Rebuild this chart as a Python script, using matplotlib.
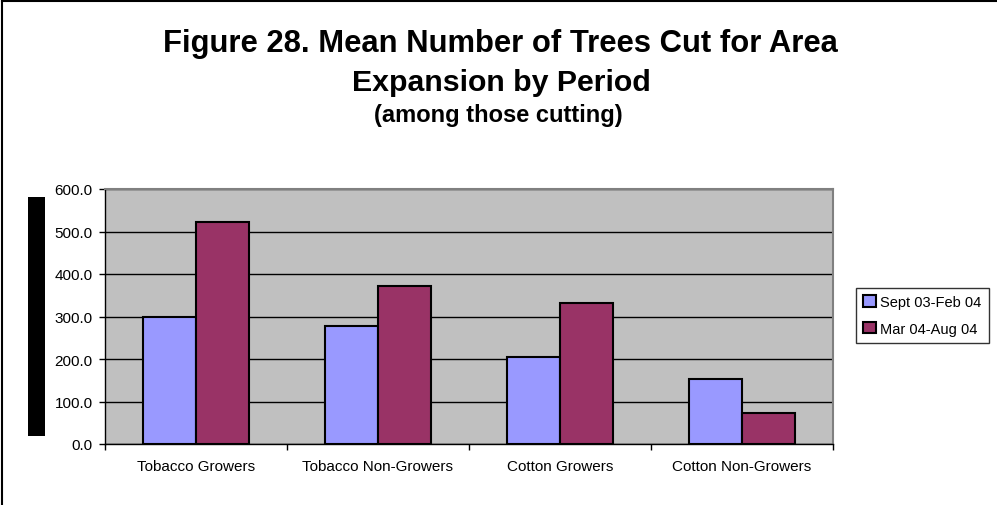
import matplotlib
matplotlib.use("Agg")
import matplotlib.pyplot as plt
import numpy as np
from matplotlib.patches import Rectangle
from matplotlib.lines import Line2D

categories = ["Tobacco Growers", "Tobacco Non-Growers", "Cotton Growers", "Cotton Non-Growers"]
series_names = ["Sept 03-Feb 04", "Mar 04-Aug 04"]
sept03_feb04 = [298, 278, 205, 152]
mar04_aug04 = [522, 371, 332, 74]
yticks = [0, 100, 200, 300, 400, 500, 600]

plt.rcParams['font.family'] = ['Liberation Sans', 'DejaVu Sans']

W, H = 997, 506
fig = plt.figure(figsize=(W / 100, H / 100), dpi=100)
fig.patch.set_facecolor('white')

# axes placement in pixels
L, R, T, B = 105, 833, 190, 445
ax = fig.add_axes([L / W, 1 - B / H, (R - L) / W, (B - T) / H])
ax.set_facecolor('#C0C0C0')

x = np.arange(len(categories))
bw = 0.29
ax.bar(x - bw / 2, sept03_feb04, bw, color='#9999FF', edgecolor='black', linewidth=1.5,
       label=series_names[0], zorder=3)
ax.bar(x + bw / 2, mar04_aug04, bw, color='#993366', edgecolor='black', linewidth=1.5,
       label=series_names[1], zorder=3)

ax.set_xlim(-0.5, len(categories) - 0.5)
ax.set_ylim(0, 600)
ax.set_yticks(yticks)
ax.set_yticklabels([f"{v:.1f}" for v in yticks], fontsize=11)
ax.set_xticks(np.arange(len(categories) + 1) - 0.5, minor=False)
ax.set_xticklabels([])
ax.set_xticks(x, minor=True)
ax.set_xticklabels(categories, minor=True, fontsize=11)
ax.tick_params(axis='x', which='minor', length=0, pad=11)
ax.tick_params(axis='x', which='major', length=4, width=1, direction='out', color='black')
ax.tick_params(axis='y', length=4, width=1, direction='out', pad=5)

ax.yaxis.grid(True, color='black', linewidth=1, zorder=1)
ax.set_axisbelow(True)
for s in ['top', 'right']:
    ax.spines[s].set_color('#808080')
    ax.spines[s].set_linewidth(1.5)
for s in ['left', 'bottom']:
    ax.spines[s].set_color('black')
    ax.spines[s].set_linewidth(1)

leg = ax.legend(loc='upper left', bbox_to_anchor=(856 / W, 1 - 289 / H), bbox_transform=fig.transFigure,
                frameon=True, fancybox=False, edgecolor='black', fontsize=10.5,
                handlelength=0.85, handleheight=0.85, handletextpad=0.3, borderpad=0.5,
                labelspacing=0.85, borderaxespad=0)
leg.get_frame().set_linewidth(1)

# titles
fig.text(500 / W, 1 - 52 / H, "Figure 28. Mean Number of Trees Cut for Area", ha='center', va='baseline',
         fontsize=22.3, fontweight='bold')
fig.text(501 / W, 1 - 91 / H, "Expansion by Period", ha='center', va='baseline',
         fontsize=21.8, fontweight='bold')
fig.text(498 / W, 1 - 122 / H, "(among those cutting)", ha='center', va='baseline',
         fontsize=17, fontweight='bold')

# redacted axis-label block
fig.patches.append(Rectangle((28 / W, 1 - 437 / H), 17 / W, 239 / H, transform=fig.transFigure,
                             facecolor='black', edgecolor='none'))
# outer chart border (top and left visible)
fig.lines.append(Line2D([1.5 / W, 1], [1 - 1.5 / H, 1 - 1.5 / H], transform=fig.transFigure,
                        color='black', linewidth=1.5))
fig.lines.append(Line2D([1.5 / W, 1.5 / W], [0, 1 - 1.5 / H], transform=fig.transFigure,
                        color='black', linewidth=1.5))

fig.savefig("out.png", dpi=100)
